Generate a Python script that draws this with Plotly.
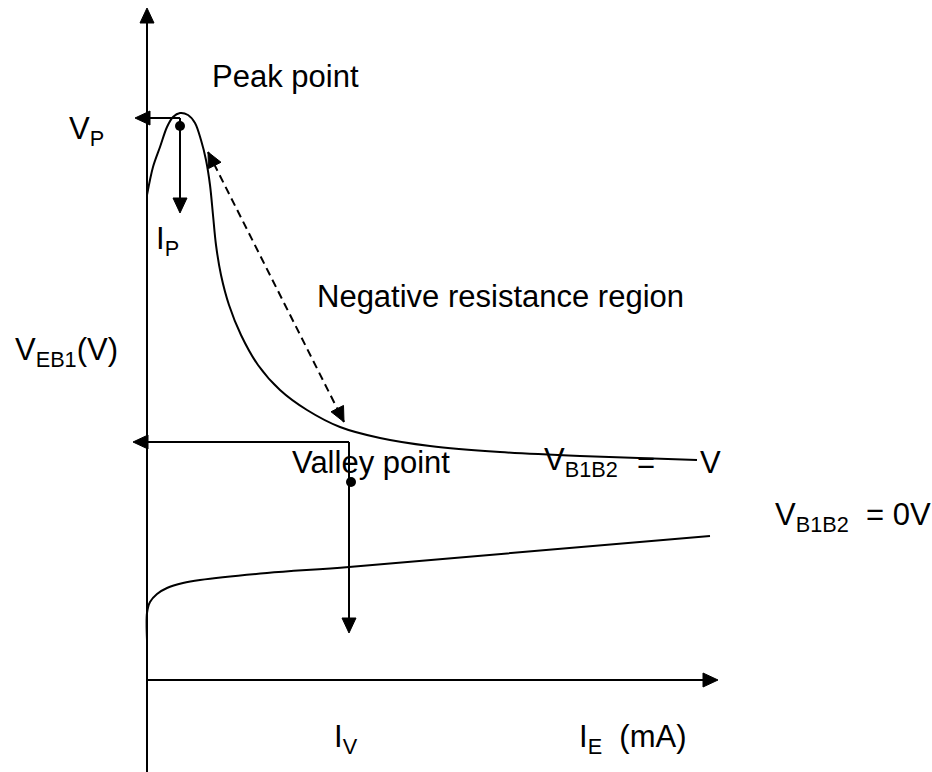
import numpy as np
import plotly.graph_objects as go

# Diagram units: origin at the axis crossing, 1 unit = 1 px on the page
# Emitter current axis (I_E) and emitter-base voltage axis (V_EB1)
x_axis_end = 571
y_axis_bottom, y_axis_top = -92, 672

# V_B1B2 = V characteristic: rise to the peak, negative-resistance fall, valley/saturation
ie_hi = [0, 6, 13, 20, 26, 33, 41, 48, 54, 59, 63, 66, 69, 74, 82, 94, 111, 133, 160, 193, 233, 283, 353, 433, 550]
veb_hi = [485, 513, 533, 553, 563, 567, 565, 557, 540, 520, 495, 465, 435, 405, 375, 345, 315, 290, 270, 253, 242, 234, 228, 224, 220]

# V_B1B2 = 0V characteristic (plain diode curve)
ie_lo = [0, 0, 3, 10, 20, 36, 53, 120, 202, 563]
veb_lo = [40, 67, 78, 86, 92, 97, 100, 107, 113, 144]

# Peak and valley points (I, V) and the marker dots beside them
peak_i, peak_v = 33, 562
valley_i, valley_v = 202, 238
peak_dot = (33, 554)
valley_dot = (204, 198)
# where the guide arrows end
peak_v_tip, peak_i_tip = -12, 467
valley_v_tip, valley_i_tip = -14, 47

# negative-resistance double-headed arrow
neg_start = (61, 528)
neg_end = (197, 258)

FONT = "Liberation Sans, Arial, sans-serif"
FS = 31
LW = 2
HEAD_LEN, HEAD_HALF = 15, 7

fig = go.Figure()


def line(xs, ys, dash=None, shape="linear"):
    fig.add_trace(go.Scatter(
        x=xs, y=ys, mode="lines", hoverinfo="skip", showlegend=False,
        line=dict(color="black", width=LW, dash=dash, shape=shape, smoothing=0.9),
    ))


def head(tip, frm):
    # filled triangular arrowhead with its tip on `tip`, pointing away from `frm`
    t = np.array(tip, dtype=float)
    u = t - np.array(frm, dtype=float)
    u /= np.hypot(*u)
    n = np.array([-u[1], u[0]])
    base = t - u * HEAD_LEN
    pts = np.array([t, base + n * HEAD_HALF, base - n * HEAD_HALF, t])
    fig.add_trace(go.Scatter(
        x=pts[:, 0], y=pts[:, 1], mode="lines", fill="toself",
        fillcolor="black", line=dict(color="black", width=1),
        hoverinfo="skip", showlegend=False,
    ))


def label(x, y, text):
    fig.add_annotation(
        x=x, y=y, xref="x", yref="y", text=text, showarrow=False,
        xanchor="left", yanchor="middle",
        font=dict(family=FONT, size=FS, color="black"),
    )


# axes
line([0, 0], [y_axis_bottom, y_axis_top - 8])
head((0, y_axis_top), (0, 0))
line([0, x_axis_end - 8], [0, 0])
head((x_axis_end, 0), (0, 0))

# characteristic curves
line(ie_hi, veb_hi, shape="spline")
line(ie_lo, veb_lo, shape="spline")

# peak point guides
line([peak_i, peak_v_tip + 8], [peak_v, peak_v])
head((peak_v_tip, peak_v), (peak_i, peak_v))
line([peak_i, peak_i], [peak_v, peak_i_tip + 8])
head((peak_i, peak_i_tip), (peak_i, peak_v))

# valley point guides
line([valley_i, valley_v_tip + 8], [valley_v, valley_v])
head((valley_v_tip, valley_v), (valley_i, valley_v))
line([valley_i, valley_i], [valley_v, valley_i_tip + 8])
head((valley_i, valley_i_tip), (valley_i, valley_v))

# dots
fig.add_trace(go.Scatter(
    x=[peak_dot[0], valley_dot[0]], y=[peak_dot[1], valley_dot[1]],
    mode="markers", hoverinfo="skip", showlegend=False,
    marker=dict(color="black", size=10, line=dict(width=0)),
))

# negative resistance region span
line([neg_start[0], neg_end[0]], [neg_start[1], neg_end[1]], dash="8px,5px")
head(neg_start, neg_end)
head(neg_end, neg_start)

# text
label(63, 604, "Peak point")
label(-80, 549, "V<sub>P</sub>")
label(7, 439, "I<sub>P</sub>")
label(-134, 328, "V<sub>EB1</sub>(V)")
label(168, 384, "Negative resistance region")
label(143, 218, "Valley point")
label(395, 218, "V<sub>B1B2</sub>")
label(488, 218, "=")
label(551, 218, "V")
label(626, 163, "V<sub>B1B2</sub>  = 0V")
label(185, -59, "I<sub>V</sub>")
label(430, -59, "I<sub>E</sub>  (mA)")

fig.update_layout(
    width=932, height=772, autosize=False,
    margin=dict(l=0, r=0, t=0, b=0),
    paper_bgcolor="white", plot_bgcolor="white",
    xaxis=dict(range=[-147, 785], visible=False, fixedrange=True),
    yaxis=dict(range=[-92, 680], visible=False, fixedrange=True),
    showlegend=False,
)

fig.write_html("out.html")
